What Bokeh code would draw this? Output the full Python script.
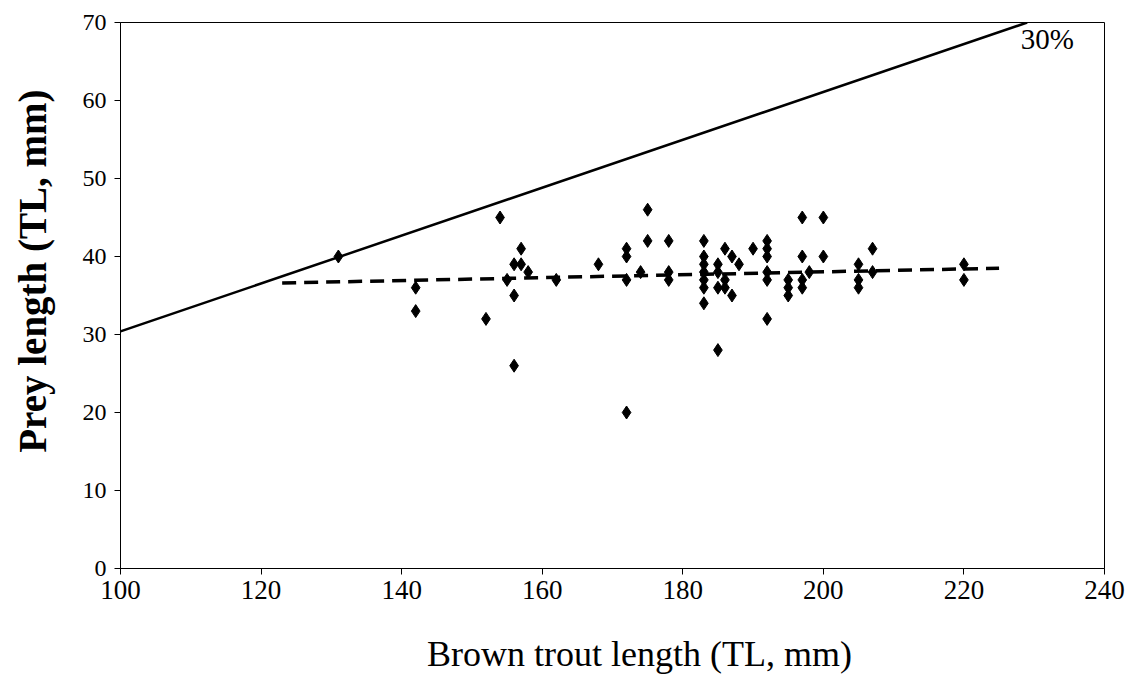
from bokeh.plotting import figure
from bokeh.models import Range1d, Label, FixedTicker
from bokeh.embed import file_html
from bokeh.resources import INLINE

# Brown trout length (TL, mm) and prey length (TL, mm)
trout_length = [131, 142, 142, 152, 154, 155, 156, 156, 156, 157, 157, 158, 162, 168,
                172, 172, 172, 172, 174, 175, 175, 178, 178, 178,
                183, 183, 183, 183, 183, 183, 183, 185, 185, 185, 185, 186, 186, 186,
                187, 187, 188, 190, 192, 192, 192, 192, 192, 192, 195, 195, 195,
                197, 197, 197, 197, 198, 200, 200, 205, 205, 205, 207, 207, 220, 220]
prey_length = [40, 36, 33, 32, 45, 37, 39, 35, 26, 41, 39, 38, 37, 39,
               41, 40, 37, 20, 38, 46, 42, 42, 38, 37,
               42, 40, 39, 38, 37, 36, 34, 39, 38, 36, 28, 41, 37, 36,
               40, 35, 39, 41, 42, 41, 40, 38, 37, 32, 37, 36, 35,
               45, 40, 37, 36, 38, 45, 40, 39, 37, 36, 41, 38, 39, 37]

# 30% reference line and trend line
ref30_x = [100, 229]
ref30_y = [30.4, 70]
ref30_label = "30%"
trend_x = [123, 225]
trend_y = [36.6, 38.5]

x_ticks = [100, 120, 140, 160, 180, 200, 220, 240]
y_ticks = [0, 10, 20, 30, 40, 50, 60, 70]
x_title = "Brown trout length (TL, mm)"
y_title = "Prey length (TL, mm)"

FONT = "Liberation Serif"
NBSP = "\u00a0"

p = figure(width=1136, height=677, x_range=Range1d(100, 240), y_range=Range1d(0, 70),
           output_backend="svg", toolbar_location=None,
           min_border_left=120, min_border_right=32, min_border_top=22, min_border_bottom=109)

p.background_fill_color = "white"
p.border_fill_color = "white"
p.outline_line_color = "black"
p.outline_line_width = 1
p.xgrid.visible = False
p.ygrid.visible = False

p.line(ref30_x, ref30_y, line_color="black", line_width=2.5)
p.line(trend_x, trend_y, line_color="black", line_width=3.5, line_dash="14 8")
p.scatter(trout_length, prey_length, marker="diamond", size=13, fill_color="black", line_color="black")

p.add_layout(Label(x=228.1, y=69.9, text=ref30_label, text_baseline="top", text_align="left",
                   text_font=FONT, text_font_size="29px", text_color="black"))

for ax, ticks in ((p.xaxis[0], x_ticks), (p.yaxis[0], y_ticks)):
    ax.ticker = FixedTicker(ticks=ticks)
    ax.minor_tick_line_color = None
    ax.major_tick_in = 0
    ax.major_tick_out = 6
    ax.axis_line_color = "black"
    ax.major_tick_line_color = "black"
    ax.major_label_text_font = FONT
    ax.major_label_text_color = "black"
    ax.axis_label_text_font = FONT
    ax.axis_label_text_color = "black"

p.xaxis[0].major_label_text_font_size = "27px"
p.xaxis[0].major_label_standoff = 6
p.yaxis[0].major_label_text_font_size = "24px"
p.yaxis[0].major_label_standoff = 8

# axis titles; leading no-break spaces shift them slightly off-centre as in the reference
p.xaxis[0].axis_label = NBSP * 6 + x_title
p.xaxis[0].axis_label_text_font_size = "36px"
p.xaxis[0].axis_label_text_font_style = "normal"
p.xaxis[0].axis_label_standoff = 32

p.yaxis[0].axis_label = NBSP * 5 + y_title
p.yaxis[0].axis_label_text_font_size = "39px"
p.yaxis[0].axis_label_text_font_style = "bold"
p.yaxis[0].axis_label_standoff = 26

open("out.html", "w").write(file_html(p, INLINE))
